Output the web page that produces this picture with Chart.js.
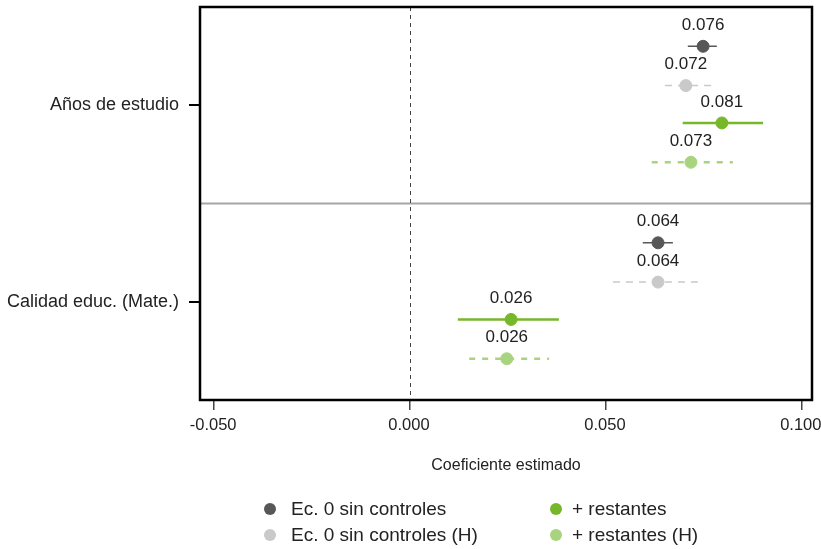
<!DOCTYPE html>
<html>
<head>
<meta charset="utf-8">
<script src="https://cdn.jsdelivr.net/npm/chart.js@4.4.1/dist/chart.umd.min.js"></script>
<style>
  html, body { margin: 0; padding: 0; background: #fff; }
  #wrap { position: relative; width: 821px; height: 549px; }
  canvas { display: block; }
  #legend { position: absolute; left: 0; top: 0; width: 821px; height: 549px; pointer-events: none;
            font-family: "Liberation Sans", Arial, sans-serif; font-size: 19px; color: #222; }
  .item { position: absolute; white-space: nowrap; line-height: 22px; }
  .dot { position: absolute; width: 12px; height: 12px; border-radius: 50%; }
</style>
</head>
<body>
<div id="wrap">
  <canvas id="myChart" width="821" height="549"></canvas>
  <div id="legend"></div>
</div>
<script>
// categories (rows) and series
const categories = ['Años de estudio', 'Calidad educ. (Mate.)'];
const seriesNames = ['Ec. 0 sin controles', 'Ec. 0 sin controles (H)', '+ restantes', '+ restantes (H)'];

// estimates per series: [Años de estudio, Calidad educ.]
const estSinControles   = [0.0748, 0.0633];
const estSinControlesH  = [0.0704, 0.0633];
const estRestantes      = [0.0796, 0.0258];
const estRestantesH     = [0.0717, 0.0247];

// confidence interval bounds
const loSinControles  = [0.0709, 0.0594];
const hiSinControles  = [0.0783, 0.0671];
const loSinControlesH = [0.0651, 0.0518];
const hiSinControlesH = [0.0770, 0.0747];
const loRestantes     = [0.0696, 0.0122];
const hiRestantes     = [0.0901, 0.0380];
const loRestantesH    = [0.0617, 0.0151];
const hiRestantesH    = [0.0824, 0.0355];

// printed labels above each point
const lblSinControles  = ['0.076', '0.064'];
const lblSinControlesH = ['0.072', '0.064'];
const lblRestantes     = ['0.081', '0.026'];
const lblRestantesH    = ['0.073', '0.026'];

const xTicks = [-0.05, 0, 0.05, 0.1];

const estimates = [estSinControles, estSinControlesH, estRestantes, estRestantesH];
const lows = [loSinControles, loSinControlesH, loRestantes, loRestantesH];
const highs = [hiSinControles, hiSinControlesH, hiRestantes, hiRestantesH];
const labels = [lblSinControles, lblSinControlesH, lblRestantes, lblRestantesH];

const colors = ['#575757', '#c9c9c9', '#77b82a', '#a9d47f'];
const lineWidths = [1.5, 1.5, 2.5, 2.5];
const dashes = [[], [7, 6], [], [6, 7]];

// row layout: category centres and offsets of each series within a row
const catCentre = [2.5, 7.5];
const rowOffset = [-1.5, -0.5, 0.45, 1.45];

const FONT = '"Liberation Sans", Arial, sans-serif';

const datasets = [];
// interval lines
seriesNames.forEach(function(name, s) {
  const pts = [];
  categories.forEach(function(c, i) {
    const y = catCentre[i] + rowOffset[s];
    pts.push({x: lows[s][i], y: y});
    pts.push({x: highs[s][i], y: y});
    pts.push({x: highs[s][i], y: null});
  });
  datasets.push({
    type: 'line',
    label: name + ' IC',
    data: pts,
    borderColor: colors[s],
    borderWidth: lineWidths[s],
    borderDash: dashes[s],
    pointRadius: 0,
    spanGaps: false,
    order: 2
  });
});
// points
seriesNames.forEach(function(name, s) {
  datasets.push({
    type: 'scatter',
    label: name,
    data: categories.map(function(c, i) { return {x: estimates[s][i], y: catCentre[i] + rowOffset[s]}; }),
    backgroundColor: colors[s],
    borderColor: colors[s],
    pointRadius: 6,
    pointHoverRadius: 6,
    valueLabels: labels[s],
    order: 1
  });
});

const decorPlugin = {
  id: 'decor',
  beforeDatasetsDraw(chart) {
    const ctx = chart.ctx, a = chart.chartArea;
    const xs = chart.scales.x, ys = chart.scales.y;
    ctx.save();
    // separator between rows
    ctx.strokeStyle = '#a6a6a6';
    ctx.lineWidth = 2;
    const ySep = ys.getPixelForValue(5);
    ctx.beginPath(); ctx.moveTo(a.left, ySep); ctx.lineTo(a.right, ySep); ctx.stroke();
    // zero line
    ctx.strokeStyle = '#444';
    ctx.lineWidth = 1;
    ctx.setLineDash([4, 4]);
    const x0 = Math.round(xs.getPixelForValue(0)) + 0.5;
    ctx.beginPath(); ctx.moveTo(x0, a.top); ctx.lineTo(x0, a.bottom); ctx.stroke();
    ctx.restore();
  },
  afterDatasetsDraw(chart) {
    const ctx = chart.ctx, a = chart.chartArea;
    ctx.save();
    ctx.font = '17px ' + FONT;
    ctx.fillStyle = '#222';
    ctx.textAlign = 'center';
    ctx.textBaseline = 'middle';
    chart.data.datasets.forEach(function(ds, di) {
      if (!ds.valueLabels) return;
      chart.getDatasetMeta(di).data.forEach(function(pt, i) {
        ctx.fillText(ds.valueLabels[i], pt.x, pt.y - 21);
      });
    });
    // frame
    ctx.strokeStyle = '#000';
    ctx.lineWidth = 2.5;
    ctx.strokeRect(a.left, a.top, a.right - a.left, a.bottom - a.top);
    ctx.restore();
  }
};

const config = {
  data: { datasets: datasets },
  options: {
    responsive: false,
    animation: false,
    layout: { padding: { left: 5, right: 9, top: 7, bottom: 0 } },
    plugins: {
      legend: { display: false },
      tooltip: { enabled: false }
    },
    scales: {
      x: {
        type: 'linear',
        min: -0.0536,
        max: 0.1026,
        afterBuildTicks(scale) { scale.ticks = xTicks.map(v => ({value: v})); },
        afterFit(scale) { scale.height = 149; scale.paddingLeft = 0; scale.paddingRight = 0; },
        ticks: {
          font: { family: FONT, size: 16.5 },
          color: '#222',
          padding: 6,
          labelOffset: -1,
          maxRotation: 0,
          callback: v => v.toFixed(3)
        },
        grid: { drawOnChartArea: false, drawTicks: true, tickLength: 10, color: '#444', lineWidth: 1.5 },
        border: { display: true, color: '#000', width: 2 },
        title: {
          display: true,
          text: 'Coeficiente estimado',
          font: { family: FONT, size: 16 },
          color: '#222',
          padding: { top: 0, bottom: 74 }
        }
      },
      y: {
        type: 'linear',
        min: 0,
        max: 10,
        reverse: true,
        afterBuildTicks(scale) { scale.ticks = catCentre.map(v => ({value: v})); },
        afterFit(scale) { scale.width = 195; scale.paddingTop = 0; scale.paddingBottom = 0; },
        ticks: {
          font: { family: FONT, size: 18 },
          color: '#222',
          padding: 10,
          callback: function(v) { const i = catCentre.indexOf(v); return i >= 0 ? categories[i] : ''; }
        },
        grid: { drawOnChartArea: false, drawTicks: true, tickLength: 11, color: '#000', lineWidth: 2 },
        border: { display: true, color: '#000', width: 2 }
      }
    }
  },
  plugins: [decorPlugin]
};

const ctx = document.getElementById('myChart').getContext('2d');
const myChart = new Chart(ctx, config);

// legend: two columns, two rows
const legendCols = [270, 556];
const legendTextGap = [21, 16];
const legendRows = [509, 535];
const legendOrder = [[0, 0, 0], [1, 0, 1], [2, 1, 0], [3, 1, 1]]; // series, column, row
const legendBox = document.getElementById('legend');
legendOrder.forEach(function(o) {
  const s = o[0], cx = legendCols[o[1]], cy = legendRows[o[2]];
  const dot = document.createElement('div');
  dot.className = 'dot';
  dot.style.background = colors[s];
  dot.style.left = (cx - 6) + 'px';
  dot.style.top = (cy - 6) + 'px';
  legendBox.appendChild(dot);
  const txt = document.createElement('div');
  txt.className = 'item';
  txt.textContent = seriesNames[s];
  txt.style.left = (cx + legendTextGap[o[1]]) + 'px';
  txt.style.top = (cy - 11) + 'px';
  legendBox.appendChild(txt);
});
</script>
</body>
</html>
